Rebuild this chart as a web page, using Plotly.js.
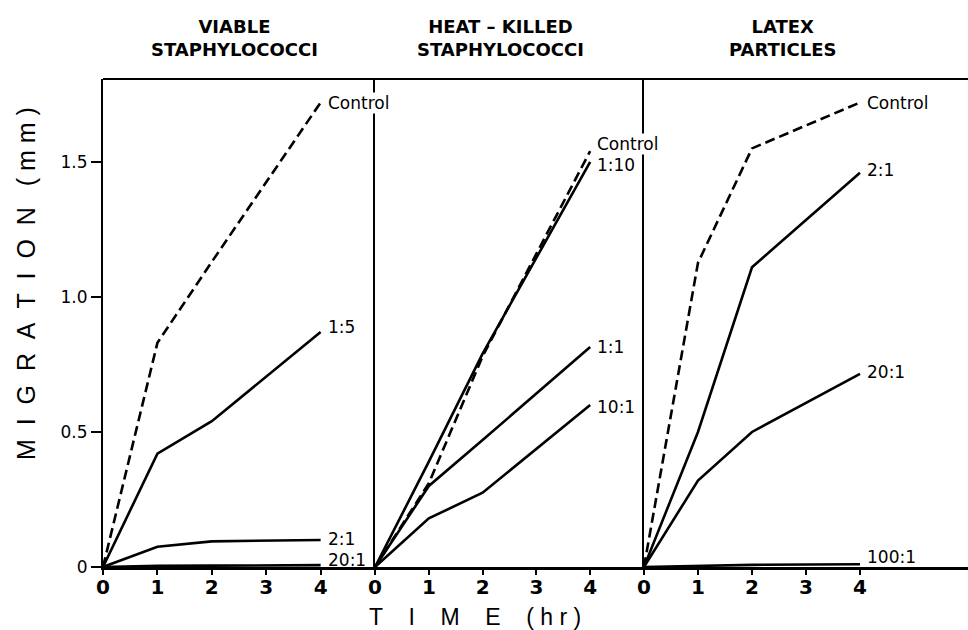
<!DOCTYPE html>
<html>
<head>
<meta charset="utf-8">
<script src="https://cdn.plot.ly/plotly-3.0.1.min.js"></script>
<style>
  html, body { margin: 0; padding: 0; background: #fff; }
  #chart { width: 968px; height: 630px; }
</style>
</head>
<body>
<div id="chart"></div>
<script>
// ---- Data ----
const timeHr = [0, 1, 2, 4];
const xTickVals = [0, 1, 2, 3, 4];
const yTickVals = [0, 0.5, 1.0, 1.5];
const yTickText = ['0', '0.5', '1.0', '1.5'];

const panelTitles = ['VIABLE<br>STAPHYLOCOCCI', 'HEAT – KILLED<br>STAPHYLOCOCCI', 'LATEX<br>PARTICLES'];

// Panel 1: viable staphylococci
const viableLabels = ['Control', '1:5', '2:1', '20:1'];
const viableControl = [0, 0.83, 1.13, 1.72];
const viable1to5 = [0, 0.42, 0.54, 0.87];
const viable2to1 = [0, 0.075, 0.095, 0.10];
const viable20to1 = [0, 0.004, 0.005, 0.007];

// Panel 2: heat-killed staphylococci
const heatLabels = ['Control', '1:10', '1:1', '10:1'];
const heatControl = [0, 0.31, 0.78, 1.54];
const heat1to10 = [0, 0.39, 0.79, 1.50];
const heat1to1 = [0, 0.30, 0.47, 0.815];
const heat10to1 = [0, 0.18, 0.275, 0.60];

// Panel 3: latex particles
const latexLabels = ['Control', '2:1', '20:1', '100:1'];
const latexControl = [0, 1.126, 1.55, 1.72];
const latex2to1 = [0, 0.50, 1.11, 1.46];
const latex20to1 = [0, 0.32, 0.50, 0.715];
const latex100to1 = [0, 0.005, 0.008, 0.01];

// ---- Styling ----
const INK = '#000000';
const LABEL_FONT = { family: 'DejaVu Sans', size: 17, color: INK };

const panels = [
  { xa: 'x',  ya: 'y',  series: [viableControl, viable1to5, viable2to1, viable20to1], labels: viableLabels,
    shifts: [0, 5, 1, 5] },
  { xa: 'x2', ya: 'y2', series: [heatControl, heat1to10, heat1to1, heat10to1], labels: heatLabels,
    shifts: [7, -3, 0, -2] },
  { xa: 'x3', ya: 'y3', series: [latexControl, latex2to1, latex20to1, latex100to1], labels: latexLabels,
    shifts: [0, 3, 2, 7] }
];

const traces = [];
const annotations = [];

panels.forEach(p => {
  p.series.forEach((vals, i) => {
    const isControl = p.labels[i] === 'Control';
    traces.push({
      type: 'scatter', mode: 'lines', x: timeHr, y: vals,
      xaxis: p.xa, yaxis: p.ya, name: p.labels[i],
      line: { color: INK, width: 2.6, dash: isControl ? '10px,5px' : 'solid' },
      hoverinfo: 'skip'
    });
    annotations.push({
      xref: p.xa, yref: p.ya, x: timeHr[timeHr.length - 1], y: vals[vals.length - 1],
      text: p.labels[i], showarrow: false, xanchor: 'left', yanchor: 'middle',
      xshift: 6, yshift: p.shifts[i], font: LABEL_FONT,
      bgcolor: isControl ? 'rgba(255,255,255,1)' : 'rgba(0,0,0,0)', borderpad: 0
    });
  });
});

// Panel titles
const titleX = [0.1526, 0.459, 0.785];
panelTitles.forEach((t, i) => {
  annotations.push({
    xref: 'paper', yref: 'paper', x: titleX[i], y: 1.085, text: '<b>' + t + '</b>',
    showarrow: false, xanchor: 'center', yanchor: 'middle', align: 'center',
    font: { family: 'DejaVu Sans', size: 18, color: INK }
  });
});

// Axis titles (letter-spaced)
const nb = '\u00a0';
const yTitle = ['M','I','G','R','A','T','I','O','N'].join(nb + nb) + nb + nb + nb + ['(', 'm', 'm', ')'].join(nb);
const xTitle = ['T','I','M','E'].join(nb + nb + nb + nb) + nb + nb + nb + nb + ['(', 'h', 'r', ')'].join(nb);
annotations.push({
  xref: 'paper', yref: 'paper', x: -0.089, y: 0.58, text: yTitle, textangle: -90,
  showarrow: false, xanchor: 'center', yanchor: 'middle',
  font: { family: 'Liberation Sans', size: 25, color: INK }
});
annotations.push({
  xref: 'paper', yref: 'paper', x: 0.43, y: -0.1025, text: xTitle,
  showarrow: false, xanchor: 'center', yanchor: 'middle',
  font: { family: 'Liberation Sans', size: 23, color: INK }
});

const xBase = {
  tickvals: xTickVals, ticks: 'outside', ticklen: 5, tickwidth: 2, tickcolor: INK,
  ticklabelstandoff: -5,
  showline: true, linewidth: 3, linecolor: INK, showgrid: false, zeroline: false,
  tickfont: { family: 'DejaVu Sans', size: 20, color: INK, weight: 'bold' },
  fixedrange: true
};
const yBase = {
  range: [0, 1.807], showline: true, linewidth: 2, linecolor: INK,
  showgrid: false, zeroline: false, fixedrange: true
};

const layout = {
  width: 968, height: 630,
  margin: { l: 103, r: 0, t: 79, b: 63 },
  paper_bgcolor: '#ffffff', plot_bgcolor: '#ffffff',
  showlegend: false,
  xaxis:  Object.assign({}, xBase, { domain: [0, 0.3145], range: [0, 5], anchor: 'y' }),
  xaxis2: Object.assign({}, xBase, { domain: [0.3145, 0.6254], range: [0, 5], anchor: 'y2' }),
  xaxis3: Object.assign({}, xBase, { domain: [0.6254, 1], range: [0, 6], anchor: 'y3' }),
  yaxis:  Object.assign({}, yBase, {
    anchor: 'x', tickvals: yTickVals, ticktext: yTickText, ticks: 'outside', ticklen: 10,
    tickwidth: 2, tickcolor: INK, tickfont: { family: 'DejaVu Sans', size: 17, color: INK }
  }),
  yaxis2: Object.assign({}, yBase, { anchor: 'x2', showticklabels: false, ticks: '' }),
  yaxis3: Object.assign({}, yBase, { anchor: 'x3', showticklabels: false, ticks: '' }),
  shapes: [{
    type: 'line', xref: 'paper', yref: 'paper', x0: 0, x1: 1, y0: 1, y1: 1,
    line: { color: INK, width: 2 }
  }],
  annotations: annotations
};

Plotly.newPlot('chart', traces, layout, { displayModeBar: false, staticPlot: true });
</script>
</body>
</html>
